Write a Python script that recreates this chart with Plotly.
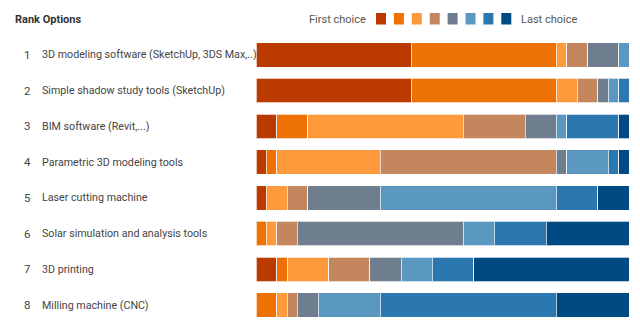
import plotly.graph_objects as go

options = [
    "3D modeling software (SketchUp, 3DS Max,..)",
    "Simple shadow study tools (SketchUp)",
    "BIM software (Revit,...)",
    "Parametric 3D modeling tools",
    "Laser cutting machine",
    "Solar simulation and analysis tools",
    "3D printing",
    "Milling machine (CNC)",
]
ranks = [1, 2, 3, 4, 5, 6, 7, 8]

# counts per choice position (1st .. 8th), per option (36 respondents)
choice1 = [15, 15, 2, 1, 1, 0, 2, 0]
choice2 = [14, 14, 3, 1, 0, 1, 1, 2]
choice3 = [1, 2, 15, 10, 2, 1, 4, 1]
choice4 = [2, 2, 6, 17, 2, 2, 4, 1]
choice5 = [3, 1, 3, 1, 7, 16, 3, 2]
choice6 = [1, 1, 1, 4, 17, 3, 3, 6]
choice7 = [0, 1, 5, 1, 4, 5, 4, 17]
choice8 = [0, 1, 1, 1, 3, 8, 15, 7]
series = [choice1, choice2, choice3, choice4, choice5, choice6, choice7, choice8]
colors = ["#BB3A00", "#EE7203", "#FE9A3C", "#C4865C", "#6F7E8E", "#5B98C1", "#2B78B0", "#004A83"]

legend_first = "First choice"
legend_last = "Last choice"
header = "Rank Options"

fig = go.Figure()
for i, (vals, col) in enumerate(zip(series, colors)):
    fig.add_trace(go.Bar(
        y=options, x=vals, orientation="h",
        marker=dict(color=col, line=dict(color="rgba(255,255,255,0.7)", width=1)),
        showlegend=False, hoverinfo="x+y",
    ))

L, R, T, B = 256, 11, 37, 4
W, H = 640, 327
pw = W - L - R
ph = H - T - B

def px_x(px):
    return (px - L) / pw

def px_y(py):
    return (H - B - py) / ph

font_fam = "Roboto"
annotations = []
for r, opt in zip(ranks, options):
    annotations.append(dict(x=px_x(27), y=opt, xref="paper", yref="y", text=str(r),
                            showarrow=False, xanchor="center", yanchor="middle",
                            font=dict(size=11.5, color="#444444", family=font_fam)))
    annotations.append(dict(x=px_x(40), y=opt, xref="paper", yref="y", text=opt,
                            showarrow=False, xanchor="left", yanchor="middle",
                            font=dict(size=10.7, color="#444444", family=font_fam)))

annotations.append(dict(x=px_x(13), y=px_y(19), xref="paper", yref="paper",
                        text="<b>" + header + "</b>", showarrow=False, xanchor="left", yanchor="middle",
                        font=dict(size=11, color="#333333", family=font_fam)))
annotations.append(dict(x=px_x(368), y=px_y(19), xref="paper", yref="paper",
                        text=legend_first, showarrow=False, xanchor="right", yanchor="middle",
                        font=dict(size=11, color="#555555", family=font_fam)))
annotations.append(dict(x=px_x(519), y=px_y(19), xref="paper", yref="paper",
                        text=legend_last, showarrow=False, xanchor="left", yanchor="middle",
                        font=dict(size=11, color="#555555", family=font_fam)))

shapes = []
for i, col in enumerate(colors):
    x0 = 376 + i * 17.9
    shapes.append(dict(type="rect", xref="paper", yref="paper",
                       x0=px_x(x0), x1=px_x(x0 + 10), y0=px_y(24.5), y1=px_y(13),
                       fillcolor=col, line=dict(width=0)))

fig.update_layout(
    barmode="stack", bargap=0.31,
    width=W, height=H,
    margin=dict(l=L, r=R, t=T, b=B, pad=0),
    plot_bgcolor="white", paper_bgcolor="white",
    xaxis=dict(visible=False, range=[0, 36], fixedrange=True),
    yaxis=dict(visible=False, autorange="reversed", categoryorder="array", categoryarray=options),
    annotations=annotations, shapes=shapes,
    font=dict(family=font_fam),
)

fig.write_html("out.html", config={"displayModeBar": False})
